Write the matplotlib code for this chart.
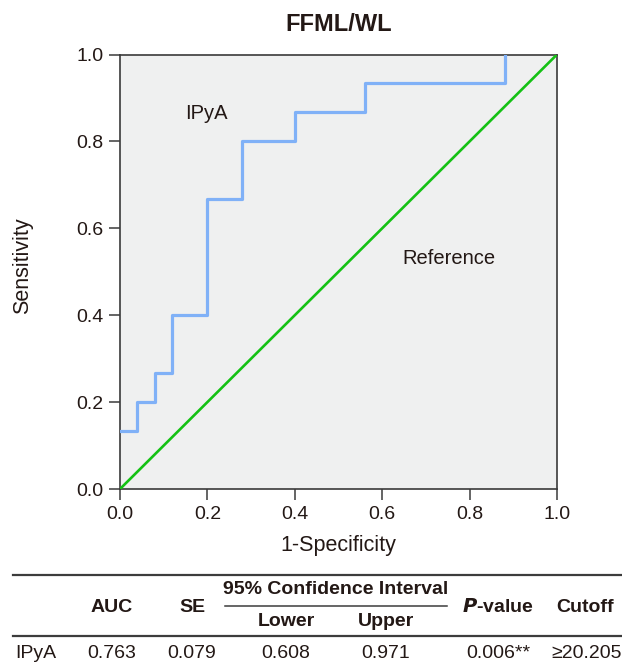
import numpy as np
import matplotlib
matplotlib.use("Agg")
import matplotlib.pyplot as plt
from matplotlib.lines import Line2D

plt.rcParams['font.family'] = ['Liberation Sans', 'DejaVu Sans']

# ROC curve (step points)
fpr = [0.0, 0.04, 0.08, 0.12, 0.20, 0.28, 0.40, 0.56, 0.88]
tpr = [2/15, 3/15, 4/15, 6/15, 10/15, 12/15, 13/15, 14/15, 1.0]
ref_line = [0.0, 1.0]

# summary table
col_heads = ['AUC', 'SE', 'Lower', 'Upper', 'P-value', 'Cutoff']
row_name = 'IPyA'
row_vals = ['0.763', '0.079', '0.608', '0.971', '0.006**', '\u226520.205']

TXT = '#231815'
W, H = 622, 663

fig = plt.figure(figsize=(W / 100, H / 100), dpi=100)
ax = fig.add_axes([120 / W, 1 - 489 / H, 437 / W, 434.5 / H])
ax.set_facecolor('#eff0f0')

ax.plot(ref_line, ref_line, color='#14c114', lw=1.9, zorder=3)
ax.step(fpr, tpr, where='post', color='#80b1f7', lw=2.3, zorder=4)

ax.set_xlim(0, 1)
ax.set_ylim(0, 1)
ax.set_xticks(np.arange(0, 1.01, 0.2))
ax.set_yticks(np.arange(0, 1.01, 0.2))
ax.xaxis.set_major_formatter(matplotlib.ticker.FormatStrFormatter('%.1f'))
ax.yaxis.set_major_formatter(matplotlib.ticker.FormatStrFormatter('%.1f'))
ax.tick_params(length=8, width=1.1, color='#3a3a3a', labelsize=14,
               labelcolor=TXT, pad=4)
for s in ax.spines.values():
    s.set_color('#3a3a3a')
    s.set_linewidth(1.2)

ax.set_xlabel('1-Specificity', fontsize=15.5, color=TXT, labelpad=9)
ax.set_ylabel('Sensitivity', fontsize=15.5, color=TXT)
ax.yaxis.set_label_coords(-0.199, 0.513)
ax.set_title('FFML/WL', fontsize=17, fontweight='bold', color=TXT, pad=17)

ax.text(0.197, 0.864, 'IPyA', fontsize=14.5, color=TXT, ha='center', va='center')
ax.text(0.752, 0.53, 'Reference', fontsize=14.5, color=TXT, ha='center', va='center')


# table drawn in pixel coordinates of the figure
def fx(x):
    return x / W


def fy(y):
    return 1 - y / H


def hline(x0, x1, y, lw):
    fig.add_artist(Line2D([fx(x0), fx(x1)], [fy(y), fy(y)], color='#3c3c3c',
                          lw=lw, transform=fig.transFigure))


hline(13, 622, 574.5, 1.6)
hline(225, 447, 605.7, 1.1)
hline(13, 622, 635.7, 1.6)

head_x = [112, 192, 286, 386, 498, 585]
head_y = [607, 607, 622, 622, 607, 607]
for name, x, y in zip(col_heads, head_x, head_y):
    if name == 'P-value':
        fig.text(fx(x), fy(y), r'$\bfit{P}$' + '-value', fontsize=14,
                 fontweight='bold', color=TXT, ha='center', va='center')
    else:
        fig.text(fx(x), fy(y), name, fontsize=14, fontweight='bold',
                 color=TXT, ha='center', va='center')
fig.text(fx(336), fy(590), '95% Confidence Interval', fontsize=14,
         fontweight='bold', color=TXT, ha='center', va='center')

fig.text(fx(15), fy(653), row_name, fontsize=14, color=TXT, ha='left', va='center')
val_x = [112, 192, 286, 386, 498, 587]
for v, x in zip(row_vals, val_x):
    fig.text(fx(x), fy(653), v, fontsize=14, color=TXT, ha='center', va='center')

fig.savefig('out.png', dpi=100)
